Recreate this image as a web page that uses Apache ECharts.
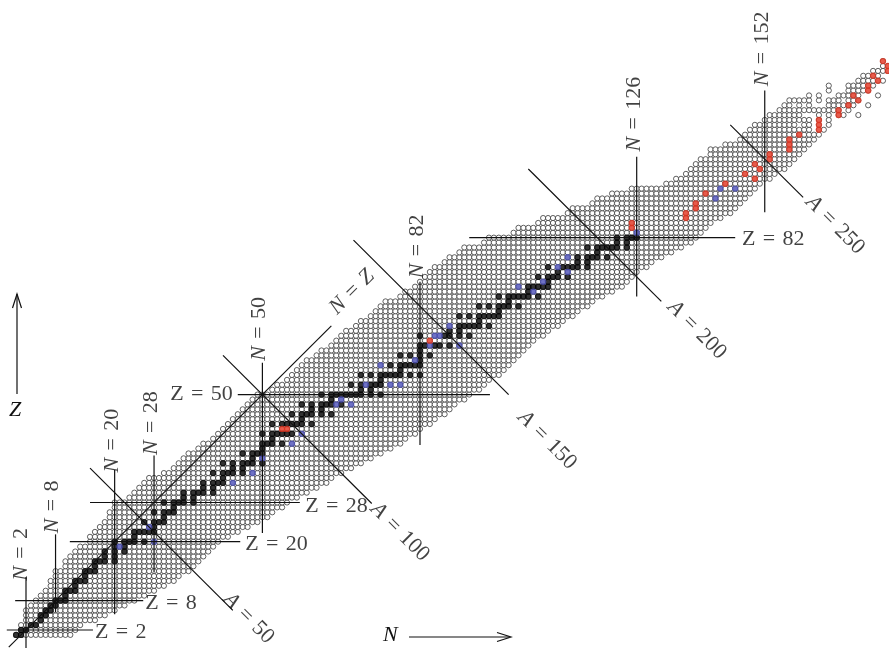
<!DOCTYPE html>
<html>
<head>
<meta charset="utf-8">
<script src="https://cdn.jsdelivr.net/npm/echarts@6/dist/echarts.min.js"></script>
<style>
  html, body { margin: 0; padding: 0; background: #fff; }
  #chart { width: 889px; height: 648px; }
</style>
</head>
<body>
<div id="chart"></div>
<script>
// Nuclides drawn as open circles: for each proton number Z, the lowest and highest neutron number N.
const zValues = Array.from({length: 103}, (_, i) => i + 1);
const nLow = [0,1,1,2,2,2,3,4,5,6,7,7,8,8,10,10,11,12,13,15,15,16,17,18,19,19,20,20,23,24,25,26,27,30,32,33,34,35,37,38,40,41,42,43,44,45,46,47,48,49,52,53,55,56,57,58,59,61,62,64,65,66,67,69,70,72,73,74,75,78,79,81,82,83,84,85,87,88,90,91,95,96,101,102,106,107,112,113,117,118,121,125,132,134,136,137,138,139,141,141,144,147,148];
const nHigh = [11,12,13,16,18,20,22,24,26,28,30,32,33,35,36,37,38,39,40,41,43,45,47,49,51,52,54,55,57,59,61,63,64,66,68,70,72,74,76,78,79,81,82,84,85,87,88,89,91,92,94,95,96,98,99,100,101,102,103,104,105,107,108,110,111,113,114,116,117,119,121,123,124,125,126,128,129,131,133,135,137,138,139,140,141,143,145,146,147,148,149,150,151,153,154,156,157,158,159,160,161,162,163];

// Superheavy elements: individual neutron numbers.
const heavyZ = [104, 105, 106, 107, 108, 109, 110, 111, 112, 113, 114, 115, 116, 117, 118];
const heavyN = [
  [149,150,151,152,153,154,155,156,157,158,159,160,161,163,164],
  [150,151,152,153,154,155,156,157,158,160,161,163,165],
  [152,153,154,155,156,157,158,159,160,161,163,165],
  [153,154,155,156,157,158,159,163,165,167,168,171],
  [155,156,157,158,159,160,161,162,163,164,165,166,167,169],
  [156,157,159,161,165,166,167,168,169,170,173],
  [157,158,159,160,161,163,165,166,167,169,170,171],
  [161,163,167,168,169,170,171,175],
  [165,169,170,171,172,173],
  [165,169,170,171,172,173,174],
  [171,172,173,174,175,176],
  [172,173,174,175],
  [174,175,176,177],
  [176,177],
  [176]
];

// Stable nuclides: proton number and mass numbers.
const stableZ = [1,2,3,4,5,6,7,8,9,10,11,12,13,14,15,16,17,18,19,20,21,22,23,24,25,26,27,28,29,30,31,32,33,34,35,36,37,38,39,40,41,42,44,45,46,47,48,49,50,51,52,53,54,55,56,57,58,59,60,62,63,64,65,66,67,68,69,70,71,72,73,74,75,76,77,78,79,80,81,82];
const stableA = [
  [1,2],[3,4],[6,7],[9],[10,11],[12,13],[14,15],[16,17,18],[19],[20,21,22],[23],[24,25,26],[27],[28,29,30],[31],
  [32,33,34,36],[35,37],[36,38,40],[39,41],[40,42,43,44,46],[45],[46,47,48,49,50],[51],[50,52,53,54],[55],
  [54,56,57,58],[59],[58,60,61,62,64],[63,65],[64,66,67,68,70],[69,71],[70,72,73,74],[75],[74,76,77,78,80],
  [79,81],[78,80,82,83,84,86],[85],[84,86,87,88],[89],[90,91,92,94],[93],[92,94,95,96,97,98],
  [96,98,99,100,101,102,104],[103],[102,104,105,106,108,110],[107,109],[106,108,110,111,112,114],[113],
  [112,114,115,116,117,118,119,120,122,124],[121,123],[120,122,124,125,126],[127],
  [124,126,128,129,130,131,132,134,136],[133],[132,134,135,136,137,138],[139],[136,138,140,142],[141],
  [142,143,145,146,148],[144,149,150,152,154],[151,153],[154,155,156,157,158,160],[159],
  [156,158,160,161,162,163,164],[165],[162,164,166,167,168,170],[169],[168,170,171,172,173,174,176],[175],
  [176,177,178,179,180],[181],[180,182,183,184,186],[185],[184,187,188,189,190,192],[191,193],
  [192,194,195,196,198],[197],[196,198,199,200,201,202,204],[203,205],[204,206,207,208]
];

// Very long-lived radionuclides [Z, A].
const longLived = [[19,40],[20,48],[23,50],[32,76],[34,82],[37,87],[40,96],[42,100],[48,113],[48,116],[49,115],
  [52,123],[52,128],[52,130],[56,130],[57,138],[60,144],[60,150],[62,147],[62,148],[64,152],[71,176],[72,174],
  [73,180],[75,187],[76,186],[78,190],[83,209],[90,232],[92,235],[92,238]];

// Longest-lived isotopes of elements without stable isotopes [Z, A].
const longestLived = [[43,97],[43,98],[61,145],[84,209],[85,210],[86,222],[87,223],[88,226],[89,227],[91,231],
  [93,237],[94,244],[95,243],[96,247],[97,247],[98,251],[99,252],[100,257],[101,258],[102,259],[103,262],
  [104,267],[105,268],[106,269],[107,274],[108,275],[109,278],[110,281],[111,281],[112,285],[113,286],
  [114,289],[115,289],[116,293],[117,294],[118,294]];

// Guide lines: magic neutron numbers [N, Z from, Z to], magic proton numbers [Z, N from, N to],
// isobars [A, N from, N to] and the N = Z line.
const magicN = [[2,-1.7,12.8],[8,5.6,21.5],[20,5.2,34.6],[28,13.7,37.6],[50,21.8,56.5],[82,39.7,73],[126,70,98.5],[152,87.2,112]];
const magicZ = [[2,-1.9,15.6],[8,-0.2,25.8],[20,10.9,45.5],[28,15,57.6],[50,45,96.2],[82,92,146]];
const isobars = [[50,15,44],[100,42,72.2],[150,68.5,100],[200,104,131],[250,145,159.8]];
const nzLine = [-1.5, 64];

const labelsN = [[2,1.0,17.4],[8,7.4,27.1],[20,19.5,40.6],[28,27.5,44.2],[50,49.4,63.4],[82,81.5,80.2],[126,125.5,107.2],[152,151.5,120.5]];
const labelsZ = [[2,16,1.6,'left'],[8,26.2,7.5,'left'],[20,46.5,19.5,'left'],[28,58.7,27.3,'left'],[50,44,50.1,'right'],[82,147.4,81.7,'left']];
const labelsA = [[50,47.2,4.4],[100,77.9,22],[150,107.8,40.7],[200,138.2,63.2],[250,166.3,84.6]];

// ---- point sets ----
const known = [];
zValues.forEach((z, i) => { for (let n = nLow[i]; n <= nHigh[i]; n++) known.push([n, z]); });
heavyZ.forEach((z, i) => heavyN[i].forEach(n => known.push([n, z])));

const stablePts = [];
stableZ.forEach((z, i) => stableA[i].forEach(a => stablePts.push([a - z, z])));
const bluePts = longLived.map(([z, a]) => [a - z, z]);
const redPts = longestLived.map(([z, a]) => [a - z, z]);

const lineStyle = { color: '#111', width: 1.2 };
const seg = data => ({ type: 'line', data, symbol: 'none', lineStyle, z: 5, silent: true });
const lineSeries = [];
magicN.forEach(([n, z0, z1]) => lineSeries.push(seg([[n, z0], [n, z1]])));
magicZ.forEach(([z, n0, n1]) => lineSeries.push(seg([[n0, z], [n1, z]])));
isobars.forEach(([a, n0, n1]) => lineSeries.push(seg([[n0, a - n0], [n1, a - n1]])));
lineSeries.push(seg([[nzLine[0], nzLine[0]], [nzLine[1], nzLine[1]]]));

const font = '"Liberation Serif", "Times New Roman", serif';
const sp = '\u2004';
const rich = { i: { fontStyle: 'italic', fontFamily: font, fontSize: 22, color: '#111' } };
const textSeries = {
  type: 'scatter', symbolSize: 0, z: 6, silent: true,
  data: [
    ...labelsN.map(([v, n, z]) => ({ value: [n, z], label: { show: true, position: 'inside', rotate: 90, formatter: '{i|N}' + sp + '=' + sp + v } })),
    ...labelsZ.map(([v, n, z, al]) => ({ value: [n, z], label: { show: true, position: 'inside', align: al, formatter: 'Z' + sp + '=' + sp + v } })),
    ...labelsA.map(([v, n, z]) => ({ value: [n, z], label: { show: true, position: 'inside', rotate: -45, formatter: '{i|A}' + sp + '=' + sp + v } })),
    { value: [68.2, 70.9], label: { show: true, position: 'inside', rotate: 45, formatter: '{i|N}' + sp + '=' + sp + '{i|Z}' } }
  ],
  label: { fontFamily: font, fontSize: 22, color: '#111', rich }
};

const chart = echarts.init(document.getElementById('chart'), null, { renderer: 'canvas' });
chart.setOption({
  animation: false,
  grid: { left: 0, top: 0, width: 889, height: 648 },
  xAxis: { type: 'value', min: -3.279, max: 177.23, show: false },
  yAxis: { type: 'value', min: -1.672, max: 130.46, show: false },
  series: [
    { type: 'scatter', data: known, symbol: 'circle', symbolSize: 5.2, z: 2, silent: true,
      itemStyle: { color: '#ffffff', borderColor: '#3a3a3a', borderWidth: 1 } },
    { type: 'scatter', data: stablePts, symbol: 'circle', symbolSize: 6.4, z: 3, silent: true,
      itemStyle: { color: '#000000' } },
    { type: 'scatter', data: bluePts, symbol: 'circle', symbolSize: 6.4, z: 3, silent: true,
      itemStyle: { color: '#4b4fb8' } },
    { type: 'scatter', data: redPts, symbol: 'circle', symbolSize: 6.4, z: 3, silent: true,
      itemStyle: { color: '#e2321e' } },
    ...lineSeries,
    textSeries
  ],
  graphic: [
    { type: 'text', left: 383, top: 624, style: { text: 'N', font: 'italic 22px ' + font, fill: '#111' } },
    { type: 'line', shape: { x1: 409, y1: 637, x2: 510, y2: 637 }, style: { stroke: '#111', lineWidth: 1.2 } },
    { type: 'polyline', shape: { points: [[497, 632.5], [511, 637], [497, 641.5]] }, style: { stroke: '#111', lineWidth: 1.2, fill: null } },
    { type: 'text', left: 9, top: 399, style: { text: 'Z', font: 'italic 22px ' + font, fill: '#111' } },
    { type: 'line', shape: { x1: 17, y1: 394, x2: 17, y2: 294 }, style: { stroke: '#111', lineWidth: 1.2 } },
    { type: 'polyline', shape: { points: [[12.5, 308], [17, 294], [21.5, 308]] }, style: { stroke: '#111', lineWidth: 1.2, fill: null } }
  ]
});
</script>
</body>
</html>
